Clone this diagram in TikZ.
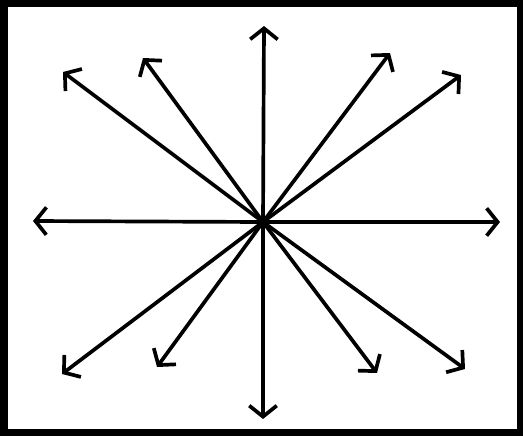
\documentclass[tikz,border=0pt]{standalone}
\usetikzlibrary{arrows.meta}

\begin{document}
\begin{tikzpicture}[x=0.02cm, y=-0.02cm, line width=2.1pt,
    ray/.style={-{Straight Barb[length=2.2mm, width=5.5mm, line width=2.1pt]}}]
\fill[black] (0,0) rectangle (523,436);
\fill[white] (8,7) rectangle (517,429);
\coordinate (o) at (263,222);
\coordinate (n) at (264,26);
\coordinate (s) at (263,419);
\coordinate (w) at (33,221);
\coordinate (e) at (500,222);
\coordinate (nwa) at (63,72);
\coordinate (nwb) at (143,58);
\coordinate (nea) at (390,53);
\coordinate (neb) at (461,75);
\coordinate (swa) at (62,374);
\coordinate (swb) at (157,367);
\coordinate (sea) at (377,373);
\coordinate (seb) at (465,369);
\foreach \t in {n, s, w, e, nwa, nwb, nea, neb, swa, swb, sea, seb}
    \draw[ray] (o) -- (\t);
\end{tikzpicture}
\end{document}
